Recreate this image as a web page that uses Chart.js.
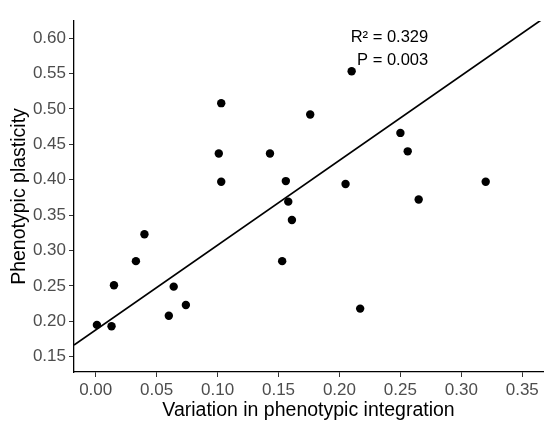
<!DOCTYPE html>
<html>
<head>
<meta charset="utf-8">
<script src="https://cdn.jsdelivr.net/npm/chart.js@4/dist/chart.umd.min.js"></script>
<style>
  html, body { margin: 0; padding: 0; background: #fff; }
  #wrap { width: 550px; height: 429px; position: relative; }
</style>
</head>
<body>
<div id="wrap"><canvas id="myChart"></canvas></div>
<script>
// values
var integration = [0.001, 0.013, 0.015, 0.033, 0.040, 0.060, 0.064, 0.074,
  0.103, 0.101, 0.103, 0.143, 0.176, 0.210, 0.250, 0.256, 0.156, 0.205,
  0.158, 0.265, 0.320, 0.161, 0.153, 0.217];
var plasticity = [0.195, 0.193, 0.251, 0.285, 0.323, 0.208, 0.249, 0.223,
  0.508, 0.437, 0.397, 0.437, 0.492, 0.553, 0.466, 0.440, 0.398, 0.394,
  0.369, 0.372, 0.397, 0.343, 0.285, 0.218];
// fitted line end points
var fitX = [-0.0178, 0.3675];
var fitY = [0.1666, 0.6278];
var xTicks = [0.00, 0.05, 0.10, 0.15, 0.20, 0.25, 0.30, 0.35];
var yTicks = [0.15, 0.20, 0.25, 0.30, 0.35, 0.40, 0.45, 0.50, 0.55, 0.60];
var statLines = ["R\u00b2 = 0.329", "P = 0.003"];

var font = "'Liberation Sans', Arial, sans-serif";

var points = [];
integration.forEach(function (v, i) {
  points.push({ x: v, y: plasticity[i] });
});
var fit = fitX.map(function (v, i) { return { x: v, y: fitY[i] }; });

// stats text drawn in data coordinates
var statsPlugin = {
  id: "stats",
  afterDatasetsDraw: function (chart) {
    var ctx = chart.ctx;
    var xs = chart.scales.x, ys = chart.scales.y;
    ctx.save();
    ctx.font = "16.5px " + font;
    ctx.fillStyle = "#000";
    ctx.textAlign = "right";
    ctx.textBaseline = "middle";
    ctx.fillText(statLines[0], xs.getPixelForValue(0.2728), ys.getPixelForValue(0.6014));
    ctx.fillText(statLines[1], xs.getPixelForValue(0.2728), ys.getPixelForValue(0.5680));
    ctx.restore();
  }
};

var ctx = document.getElementById("myChart").getContext("2d");
var chart = new Chart(ctx, {
  type: "scatter",
  data: {
    datasets: [
      {
        label: "fit",
        type: "line",
        data: fit,
        borderColor: "#000",
        borderWidth: 1.7,
        pointRadius: 0,
        fill: false,
      },
      {
        label: "samples",
        data: points,
        backgroundColor: "#000",
        borderWidth: 0,
        pointRadius: 4.2,
        pointHoverRadius: 4.2,
      },
    ],
  },
  options: {
    responsive: true,
    maintainAspectRatio: false,
    animation: false,
    layout: { padding: { left: 0, right: 7, top: 21, bottom: 0 } },
    plugins: {
      legend: { display: false },
      tooltip: { enabled: false },
    },
    scales: {
      x: {
        type: "linear",
        min: -0.0178,
        max: 0.367,
        afterBuildTicks: function (scale) {
          scale.ticks = xTicks.map(function (v) { return { value: v }; });
        },
        afterFit: function (scale) { scale.height = 57; },
        grid: { display: true, drawOnChartArea: false, drawTicks: true, tickLength: 5, color: "#333", lineWidth: 1 },
        border: { display: true, color: "#000", width: 1.3 },
        ticks: {
          color: "#4d4d4d",
          font: { family: font, size: 17 },
          padding: 3,
          maxRotation: 0,
          callback: function (v) { return Number(v).toFixed(2); },
        },
        title: {
          display: true,
          text: "Variation in phenotypic integration",
          color: "#000",
          font: { family: font, size: 19.5 },
          padding: { top: 0, bottom: 7 },
        },
      },
      y: {
        type: "linear",
        min: 0.1285,
        max: 0.624,
        afterBuildTicks: function (scale) {
          scale.ticks = yTicks.map(function (v) { return { value: v }; });
        },
        afterFit: function (scale) { scale.width = 74; },
        grid: { display: true, drawOnChartArea: false, drawTicks: true, tickLength: 5, color: "#333", lineWidth: 1 },
        border: { display: true, color: "#000", width: 1.3 },
        ticks: {
          color: "#4d4d4d",
          font: { family: font, size: 17 },
          padding: 3,
          callback: function (v) { return Number(v).toFixed(2); },
        },
        title: {
          display: true,
          text: "Phenotypic plasticity",
          color: "#000",
          font: { family: font, size: 19.5 },
          padding: { top: 8, bottom: 0 },
        },
      },
    },
  },
  plugins: [statsPlugin],
});
</script>
</body>
</html>
